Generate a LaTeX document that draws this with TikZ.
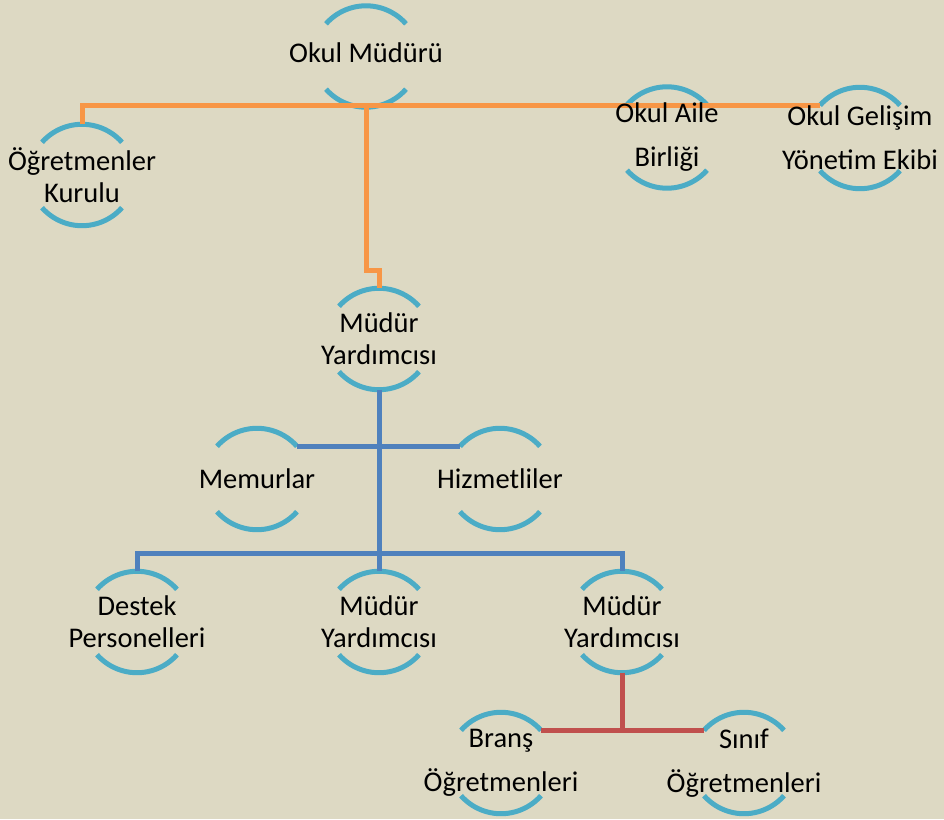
\documentclass[tikz,border=0pt]{standalone}
\usepackage{fontspec}
\setmainfont{Carlito}
\usetikzlibrary{calc}
\definecolor{bgc}{RGB}{221,217,195}
\definecolor{arcc}{RGB}{75,172,198}
\definecolor{orl}{RGB}{247,150,70}
\definecolor{bll}{RGB}{79,129,189}
\definecolor{rdl}{RGB}{192,80,77}
\pgfdeclarelayer{back}
\pgfdeclarelayer{mid}
\pgfsetlayers{back,mid,main}
\tikzset{
  unit/.style={rectangle, minimum width=80pt, minimum height=101pt, inner sep=0pt, align=center, text=black},
  tight/.style={unit, font={\fontsize{28.5}{32}\selectfont}},
  loose/.style={unit, font={\fontsize{28.5}{44}\selectfont}},
  arcline/.style={draw=arcc, line width=5pt},
  orline/.style={draw=orl, line width=5pt},
  blline/.style={draw=bll, line width=5pt},
  rdline/.style={draw=rdl, line width=5pt},
}
\begin{document}
\begin{tikzpicture}[x=1pt,y=1pt]
\begin{pgfonlayer}{back}
\fill[bgc] (0,0) rectangle (944,-819);
\end{pgfonlayer}
\useasboundingbox (0,0) rectangle (944,-819);

\node[tight, text height=20pt, text depth=8pt] (om)  at (366,-56.5) {Okul Müdürü};
\node[tight] (ogk) at (82,-175) {Öğretmenler\\Kurulu};
\node[loose] (oab) at (667,-137.5) {Okul Aile\\Birliği};
\node[loose] (ogy) at (860,-138) {Okul Gelişim\\Yönetim Ekibi};
\node[tight] (my1) at (379,-339) {Müdür\\Yardımcısı};
\node[tight] (mem) at (257,-479) {Memurlar};
\node[tight] (hiz) at (500,-479) {Hizmetliler};
\node[tight] (dp)  at (137,-622) {Destek\\Personelleri};
\node[tight] (my2) at (379,-622) {Müdür\\Yardımcısı};
\node[tight] (my3) at (622,-622) {Müdür\\Yardımcısı};
\node[loose] (bo)  at (501,-763) {Branş\\Öğretmenleri};
\node[loose] (so)  at (744,-763) {Sınıf\\Öğretmenleri};

\begin{pgfonlayer}{mid}
\foreach \n in {om,ogk,oab,ogy,my1,mem,hiz,dp,my2,my3,bo,so}{
  \draw[arcline] ($(\n.north)+(-40,-18)$) arc[start angle=138.5, end angle=41.5, radius=53.4];
  \draw[arcline] ($(\n.south)+(-40,18)$) arc[start angle=221.5, end angle=318.5, radius=53.4];
}
\coordinate (ogyL) at ($(ogy.north)+(-40,-18)$);
\coordinate (memR) at ($(mem.north)+(40,-18)$);
\coordinate (hizL) at ($(hiz.north)+(-40,-18)$);
\coordinate (boR)  at ($(bo.north)+(40,-18)$);
\coordinate (soL)  at ($(so.north)+(-40,-18)$);
% orange
\draw[orline] (ogk.north) |- (ogyL);
\draw[orline] (om.south) |- ($(my1.north)+(0,18)$) -- (my1.north);
% blue
\draw[blline] (my1.south) -- (my2.north);
\draw[blline] (memR) -- (hizL);
\draw[blline] (dp.north) -- ++(0,18) -| (my3.north);
% red
\draw[rdline] (my3.south) -- (my3.south |- boR);
\draw[rdline] (boR) -- (soL);
\end{pgfonlayer}
\end{tikzpicture}
\end{document}
